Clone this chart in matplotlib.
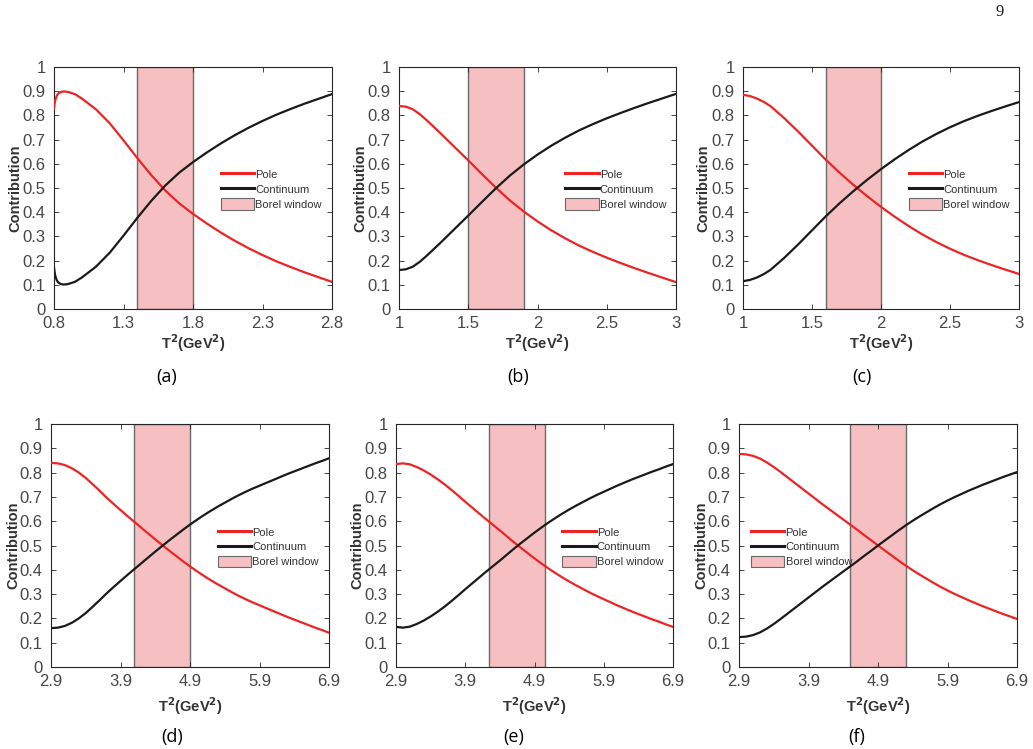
import matplotlib
matplotlib.use("Agg")
import matplotlib.pyplot as plt
from matplotlib.patches import Patch
from matplotlib.lines import Line2D

# ---------------- data ----------------
A_x = [0.80,0.805,0.81,0.82,0.83,0.85,0.87,0.90,0.95,1.0,1.1,1.2,1.3,1.4,1.5,1.6,1.7,1.8,1.9,2.0,2.1,2.2,2.3,2.4,2.5,2.6,2.7,2.8]
A_pole = [0.828,0.850,0.865,0.881,0.890,0.897,0.899,0.897,0.888,0.870,0.826,0.768,0.697,0.623,0.553,0.490,0.437,0.393,0.353,0.316,0.282,0.251,0.223,0.197,0.174,0.152,0.132,0.112]
A_cont = [0.172,0.150,0.135,0.119,0.110,0.103,0.101,0.103,0.112,0.130,0.174,0.232,0.303,0.377,0.447,0.510,0.563,0.607,0.647,0.684,0.718,0.749,0.777,0.803,0.826,0.848,0.868,0.888]

B_x = [1.0,1.05,1.1,1.15,1.2,1.3,1.4,1.5,1.6,1.7,1.8,1.9,2.0,2.1,2.2,2.3,2.4,2.5,2.6,2.7,2.8,2.9,3.0]
B_pole = [0.839,0.836,0.825,0.805,0.780,0.726,0.670,0.614,0.557,0.501,0.449,0.403,0.362,0.325,0.292,0.262,0.236,0.212,0.190,0.169,0.149,0.130,0.111]
B_cont = [0.161,0.164,0.175,0.195,0.220,0.274,0.330,0.386,0.443,0.499,0.551,0.597,0.638,0.675,0.708,0.738,0.764,0.788,0.810,0.831,0.851,0.870,0.889]

C_x = [1.0,1.05,1.1,1.15,1.2,1.3,1.4,1.5,1.6,1.7,1.8,1.9,2.0,2.1,2.2,2.3,2.4,2.5,2.6,2.7,2.8,2.9,3.0]
C_pole = [0.885,0.880,0.870,0.856,0.838,0.788,0.733,0.675,0.617,0.563,0.513,0.466,0.422,0.381,0.343,0.308,0.277,0.249,0.224,0.202,0.182,0.163,0.145]
C_cont = [0.115,0.120,0.130,0.144,0.162,0.212,0.267,0.325,0.383,0.437,0.487,0.534,0.578,0.619,0.657,0.692,0.723,0.751,0.776,0.798,0.818,0.837,0.855]

T_x = [2.9,3.0,3.1,3.2,3.3,3.4,3.5,3.6,3.7,3.8,3.9,4.0,4.1,4.2,4.3,4.4,4.5,4.6,4.7,4.8,4.9,
       5.0,5.1,5.2,5.3,5.4,5.5,5.6,5.7,5.8,5.9,6.0,6.1,6.2,6.3,6.4,6.5,6.6,6.7,6.8,6.9]

D_pole = [0.840,0.838,0.831,0.818,0.800,0.778,0.752,0.725,0.697,0.671,0.646,0.621,0.597,0.573,0.549,0.525,0.502,0.479,0.457,0.435,0.414,
          0.394,0.375,0.357,0.340,0.324,0.308,0.293,0.279,0.266,0.254,0.242,0.230,0.218,0.206,0.195,0.184,0.173,0.162,0.152,0.141]
D_cont = [0.160,0.162,0.169,0.182,0.200,0.222,0.248,0.275,0.303,0.329,0.354,0.379,0.403,0.427,0.451,0.475,0.498,0.521,0.543,0.565,0.586,
          0.606,0.625,0.643,0.660,0.676,0.692,0.707,0.721,0.734,0.746,0.758,0.770,0.782,0.794,0.805,0.816,0.827,0.838,0.848,0.859]

E_pole = [0.835,0.838,0.834,0.823,0.809,0.792,0.773,0.752,0.729,0.705,0.680,0.656,0.632,0.608,0.585,0.562,0.538,0.514,0.491,0.469,0.447,
          0.426,0.406,0.387,0.369,0.352,0.336,0.321,0.306,0.292,0.279,0.266,0.253,0.241,0.229,0.218,0.207,0.196,0.186,0.175,0.165]
E_cont = [0.165,0.162,0.166,0.177,0.191,0.208,0.227,0.248,0.271,0.295,0.320,0.344,0.368,0.392,0.415,0.438,0.462,0.486,0.509,0.531,0.553,
          0.574,0.594,0.613,0.631,0.648,0.664,0.679,0.694,0.708,0.721,0.734,0.747,0.759,0.771,0.782,0.793,0.804,0.814,0.825,0.835]

F_pole = [0.877,0.875,0.869,0.858,0.842,0.823,0.802,0.780,0.758,0.736,0.714,0.692,0.670,0.649,0.628,0.607,0.586,0.565,0.543,0.522,0.500,
          0.479,0.458,0.437,0.417,0.398,0.380,0.363,0.346,0.330,0.315,0.301,0.288,0.275,0.263,0.251,0.240,0.229,0.218,0.208,0.198]
F_cont = [0.123,0.125,0.131,0.142,0.158,0.177,0.198,0.220,0.242,0.264,0.286,0.308,0.330,0.351,0.372,0.393,0.414,0.435,0.457,0.478,0.500,
          0.521,0.542,0.563,0.583,0.602,0.620,0.637,0.654,0.670,0.685,0.699,0.712,0.725,0.737,0.749,0.760,0.771,0.782,0.792,0.802]

windows = [(1.4, 1.8), (1.5, 1.9), (1.6, 2.0), (4.1, 4.9), (4.25, 5.05), (4.5, 5.3)]
xticks_top_a = [0.8, 1.3, 1.8, 2.3, 2.8]
xlabels_top_a = ["0.8", "1.3", "1.8", "2.3", "2.8"]
xticks_top_bc = [1, 1.5, 2, 2.5, 3]
xlabels_top_bc = ["1", "1.5", "2", "2.5", "3"]
xticks_bot = [2.9, 3.9, 4.9, 5.9, 6.9]
xlabels_bot = ["2.9", "3.9", "4.9", "5.9", "6.9"]
yticks = [0, 0.1, 0.2, 0.3, 0.4, 0.5, 0.6, 0.7, 0.8, 0.9, 1.0]
ylabels = ["0", "0.1", "0.2", "0.3", "0.4", "0.5", "0.6", "0.7", "0.8", "0.9", "1"]
legend_labels = ["Pole", "Continuum", "Borel window"]
panel_names = ["(a)", "(b)", "(c)", "(d)", "(e)", "(f)"]

series = [(A_x, A_pole, A_cont), (B_x, B_pole, B_cont), (C_x, C_pole, C_cont),
          (T_x, D_pole, D_cont), (T_x, E_pole, E_cont), (T_x, F_pole, F_cont)]
xinfo = [(xticks_top_a, xlabels_top_a), (xticks_top_bc, xlabels_top_bc), (xticks_top_bc, xlabels_top_bc),
         (xticks_bot, xlabels_bot), (xticks_bot, xlabels_bot), (xticks_bot, xlabels_bot)]

# ---------------- layout (pixels) ----------------
W, H = 1033, 749
rects = [(54, 67, 278, 242), (399, 67, 277, 242), (743, 67, 276, 242),
         (51, 424, 278, 243), (396, 424, 277, 243), (739, 424, 278, 243)]
ylab_x = [15, 360, 703, 13, 357, 701]
panel_x = [167, 518, 862, 172, 514, 857]
legend_x = [0.60, 0.60, 0.60, 0.60, 0.60, 0.043]

RED = "#EE2424"
BLACK = "#1A1A1A"
PINK = "#F6BFC1"
EDGE = "#6A6A6A"
AXC = "#262626"
TXT = "#474747"

fig = plt.figure(figsize=(W / 100, H / 100), dpi=100)
fig.patch.set_facecolor("white")

for i in range(6):
    l, t, w, h = rects[i]
    ax = fig.add_axes([l / W, 1 - (t + h) / H, w / W, h / H])
    xs, pole, cont = series[i]
    ticks, labels = xinfo[i]
    lo, hi = windows[i]
    ax.axvspan(lo, hi, facecolor=PINK, edgecolor=EDGE, linewidth=1.0, zorder=1)
    ax.plot(xs, pole, color=RED, lw=1.6, zorder=3, solid_joinstyle="round")
    ax.plot(xs, cont, color=BLACK, lw=1.6, zorder=3, solid_joinstyle="round")
    ax.set_xlim(ticks[0], ticks[-1])
    ax.set_ylim(0, 1)
    ax.set_xticks(ticks)
    ax.set_xticklabels(labels)
    ax.set_yticks(yticks)
    ax.set_yticklabels(ylabels)
    ax.tick_params(direction="in", length=3.5, width=0.6, colors=AXC, labelcolor=TXT,
                   labelsize=12, top=True, right=True)
    ax.tick_params(axis="x", pad=5)
    ax.tick_params(axis="y", pad=6)
    for tl in ax.get_xticklabels() + ax.get_yticklabels():
        tl.set_family("Liberation Sans")
    for s in ax.spines.values():
        s.set_color(AXC)
        s.set_linewidth(0.8)
    handles = [Line2D([], [], color=RED, lw=2.2),
               Line2D([], [], color=BLACK, lw=2.2),
               Patch(facecolor=PINK, edgecolor=EDGE, linewidth=0.8)]
    leg = ax.legend(handles, legend_labels, loc="upper left",
                    bbox_to_anchor=(legend_x[i], 0.58), frameon=False, borderpad=0,
                    borderaxespad=0, handlelength=3.0, handleheight=1.2, handletextpad=0.12,
                    labelspacing=0.3, prop={"family": "Liberation Sans", "size": 8})
    for txt in leg.get_texts():
        txt.set_color("#333333")
    cx = (l + w / 2) / W
    xl_y = 343 if i < 3 else 706
    pn_y = 377 if i < 3 else 737
    fig.text(cx, 1 - xl_y / H, "T$^{\\mathbf{2}}$(GeV$^{\\mathbf{2}}$)", ha="center", va="center",
             fontsize=10.5, fontweight="bold", family="Liberation Sans", color="#333333")
    fig.text(ylab_x[i] / W, 1 - (t + h / 2) / H, "Contribution", rotation=90, ha="center",
             va="center", fontsize=10.5, fontweight="bold", family="Liberation Sans", color="#333333")
    fig.text(panel_x[i] / W, 1 - pn_y / H, panel_names[i], ha="center", va="center",
             fontsize=13, family="Open Sans", color="#000000")

fig.text(1000 / W, 1 - 12 / H, "9", ha="center", va="center", fontsize=12,
         family="Liberation Serif", color="#222222")

fig.savefig("out.png", dpi=100)
